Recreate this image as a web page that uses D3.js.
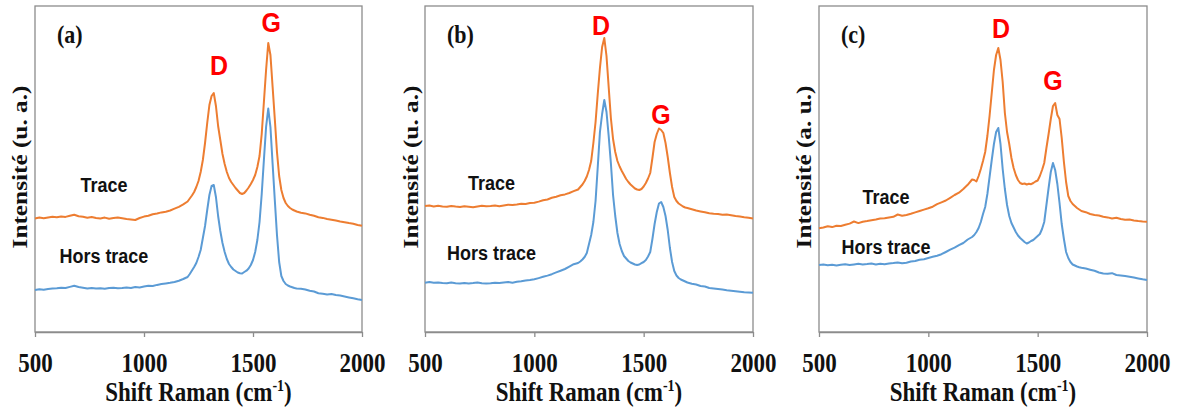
<!DOCTYPE html>
<html><head><meta charset="utf-8">
<script src="https://cdn.jsdelivr.net/npm/d3@7"></script>
<style>body{margin:0;background:#fff}svg{display:block}</style>
</head><body>
<svg id="chart" width="1180" height="410"></svg>
<script>
// ---- DATA ----
const wavenumbers = [
500,520,540,560,580,600,620,640,660,680,700,720,740,760,780,800,820,840,860,880,900,920,940,960,980,1000,1020,1040,1060,1080,1100,1120,1140,1160,1180,
1200,1210,1220,1230,1240,1250,1260,1270,1280,1290,1300,1310,1320,1330,1340,1350,1360,1370,1380,1390,1400,1410,1420,1430,1440,1450,1460,1470,1480,1490,1500,1510,1520,1530,1540,1550,1560,1570,1580,1590,1600,1610,1620,1630,1640,1650,1660,1670,1680,1690,1700,
1720,1740,1760,1780,1800,1820,1840,1860,1880,1900,1920,1940,1960,1980,2000];

const traceA = [
113.5,114.5,113.8,114.6,115.2,114.8,115.6,115.1,116.2,117.3,115.8,115.2,114.3,115.0,114.1,113.6,114.4,113.2,113.9,114.5,113.8,113.1,112.6,112.0,114.0,115.4,116.2,117.8,118.5,119.6,120.3,121.5,123.4,125.2,127.6,
130.5,133.5,136.5,140,145,151,160,172,189,209,227,236,239,226,206,192,178,168,160,154,150,147,144,141.5,139,138,139,141.5,144.5,148,152,157,165,176,198,230,262,289,277,245,213,180,156,142,134,129,126,124,122.5,121.5,120.5,
119.2,118.6,117.3,116.2,114.8,114.1,113.0,112.2,111.4,110.5,109.8,108.9,108.2,107.0,106.2];
const horsA = [
42.0,42.8,42.3,43.1,43.5,43.8,44.2,44.0,45.1,46.2,45.0,44.3,43.6,44.1,43.4,43.8,43.2,43.9,44.3,43.7,43.9,44.6,44.1,45.0,44.6,45.4,46.3,46.0,47.1,47.9,48.6,49.2,50.0,51.3,53.0,
55,58,61.5,65,69,75,82,94,106,122,137,146,147,135,116,101,89,80,73,68,65,62.5,61,59.5,58.8,58.5,60,61.3,63.5,67,72,80,92,110,138,172,205,223.5,205,168,132,97,70,56,51,48,46.5,45.5,44.8,44.0,43.6,
43.2,42.5,41.2,40.5,38.8,38.2,37.6,38.0,37.0,36.4,35.5,34.6,33.8,32.8,32.0];

const traceB = [
126.0,126.5,125.6,126.2,125.4,125.3,126.1,125.5,125.0,125.8,125.3,124.8,125.6,126.3,125.7,126.0,126.4,125.8,126.6,127.3,127.0,127.6,128.3,128.0,129.0,129.3,130.4,131.8,132.5,134.2,135.3,136.8,137.6,139.0,140.8,
142.5,145,147.5,151,155.5,162,171,189,210,238,264,285,294,276,245,214,193,180,171,165.5,161,157,153,150,147.5,145.5,143.5,142.5,142,143,145.5,149,153.5,159,174,190,198,203.5,202,199,189,175,159,145,135,131,128.5,127,125.5,124.5,124,
122.8,121.5,120.6,119.8,118.8,118.3,118.0,117.2,117.5,116.8,116.0,115.4,114.8,114.3,113.6];
const horsB = [
49.3,50.0,49.2,49.6,48.9,48.7,49.4,48.8,48.5,49.1,48.6,48.9,49.4,48.8,48.5,48.7,49.3,49.0,49.6,50.1,49.3,50.2,50.8,51.5,52.0,52.7,53.9,55.2,56.4,57.8,59.6,61.3,63.0,65.4,67.8,
69,70.5,72.5,75,79,88,97,110,131,165,200,218,232,220,196,169,137,116,99,88,81,76,73.5,71,69.5,68.5,67.5,67,67.5,68.8,70,72,75.5,80,93,108,120,128.5,130,125,116,102,84,70,61,56.5,54,52.5,51.5,50.5,49.5,
48.2,47.5,46.0,45.5,44.0,43.6,43.0,42.4,41.8,41.3,40.8,40.3,39.8,39.6,39.3];

const traceC = [
103.7,104.5,105.8,104.9,106.3,106.0,107.2,108.4,110.5,108.9,110.3,111.0,111.8,112.5,113.4,113.7,114.6,115.2,117.5,116.3,117.0,118.2,119.6,121.0,122.4,123.7,125.3,127.8,129.6,131.5,134.2,137.0,139.3,143.0,147.2,
152.5,152,150.5,156,163,171,180,196,216,239,262,277,284,272,250,219,200,188,174,164,157,152,149,148,148.5,147.5,148.2,147.8,149,150.5,151.5,156,162,169,184,198,213,226,229,217,213,194,170,150,136,131,128,126,124,122.5,121,
119.8,118.0,117.0,116.5,115.2,114.6,113.5,114.3,113.0,112.2,112.4,111.5,111.0,110.6,110.3];
const horsC = [
67.0,67.5,66.8,67.3,66.6,67.2,67.8,67.0,67.6,68.2,67.5,67.9,68.4,67.6,68.3,67.8,68.5,68.9,69.6,68.8,69.3,70.5,71.0,72.3,72.8,74.0,75.2,76.3,77.8,80.0,82.3,84.3,86.8,89.0,92.5,
95,97,100,104,110,118,125,138,155,172,188,200,204,188,163,143,127,116,109,104.5,100,96.5,94,92,90,88.5,89.5,91,92,94,96,98,103,110,127,144,160,169,162,148,129,108,93,80,74,70,67.5,66.5,65.5,64.8,64.2,
63.5,62.3,61.2,59.5,58.5,58.2,58.8,57.0,56.5,56.0,55.3,54.4,53.6,52.7,52.0];

const panelLabels = ["(a)", "(b)", "(c)"];
const yTitles = ["Intensité (u. a.)", "Intensité (u. a.)", "Intensité (a. u.)"];
const xTitle = "Shift Raman (cm";
const xTitleSup = "-1";
const xTicks = [500, 1000, 1500, 2000];
const seriesNames = ["Trace", "Hors trace"];
const peakNames = ["D", "G"];

// ---- LAYOUT (positions in data coordinates / pixels) ----
const layouts = [
  {left: 35,  right: 362,  yTitleX: 27,  trace: traceA, hors: horsA,
   peaks: [[1344, 257], [1583, 300]], names: [[816, 140], [816, 69]]},
  {left: 425, right: 753,  yTitleX: 418, trace: traceB, hors: horsB,
   peaks: [[1305, 297], [1579, 208]], names: [[804, 142], [804, 72]]},
  {left: 819, right: 1147, yTitleX: 811, trace: traceC, hors: horsC,
   peaks: [[1332, 294], [1570, 242]], names: [[806, 128], [806, 78]]}
];
const yTop = 6, yBottom = 332;
const SERIF = "'Liberation Serif','Times New Roman',serif";
const SANS = "'Liberation Sans',Arial,sans-serif";
const SY = 1.15;
const frameColor = "#8c8c8c";
const orange = "#ED7D31", blue = "#5B9BD5";

const svg = d3.select("#chart");

function sText(g, x, y, str, o) {
  return g.append("text")
    .attr("transform", `translate(${x},${y}) scale(1,${o.sy || SY})`)
    .attr("text-anchor", o.anchor || "middle")
    .attr("font-family", o.family).attr("font-weight", "bold")
    .attr("font-size", o.size).attr("fill", o.fill || "#111")
    .text(str);
}

layouts.forEach((p, k) => {
  const g = svg.append("g");
  const x = d3.scaleLinear().domain([500, 2000]).range([p.left, p.right]);
  const y = d3.scaleLinear().domain([0, 326]).range([yBottom, yTop]);

  // plot frame
  g.append("rect").attr("x", p.left).attr("y", yTop)
    .attr("width", p.right - p.left).attr("height", yBottom - yTop)
    .attr("fill", "none").attr("stroke", frameColor).attr("stroke-width", 1.3);

  // x axis
  const axis = d3.axisBottom(x).tickValues(xTicks).tickSize(5).tickSizeOuter(0).tickFormat(d3.format("d"));
  const ag = g.append("g").attr("transform", `translate(0,${yBottom})`).call(axis);
  ag.select(".domain").attr("stroke", frameColor).attr("stroke-width", 1.3);
  ag.selectAll(".tick line").attr("stroke", frameColor).attr("stroke-width", 1.3);
  ag.selectAll(".tick text").attr("y", null).attr("dy", null)
    .attr("transform", `translate(0,39.5) scale(1,${SY})`)
    .attr("font-family", SERIF).attr("font-weight", "bold").attr("font-size", 23).attr("fill", "#111");

  // lines
  const line = arr => d3.line().x((d, i) => x(wavenumbers[i])).y(d => y(d))(arr);
  g.append("path").attr("d", line(p.hors)).attr("fill", "none")
    .attr("stroke", blue).attr("stroke-width", 2).attr("stroke-linejoin", "round");
  g.append("path").attr("d", line(p.trace)).attr("fill", "none")
    .attr("stroke", orange).attr("stroke-width", 2).attr("stroke-linejoin", "round");

  // x title
  const cx = (p.left + p.right) / 2;
  const xt = g.append("text")
    .attr("transform", `translate(${cx},401) scale(1,${SY})`)
    .attr("text-anchor", "middle").attr("font-family", SERIF).attr("font-weight", "bold")
    .attr("font-size", 23).attr("fill", "#111");
  xt.append("tspan").text(xTitle);
  xt.append("tspan").attr("font-size", 14).attr("dy", -9).text(xTitleSup);
  xt.append("tspan").attr("dy", 9).text(")");

  // y title
  g.append("text")
    .attr("transform", `translate(${p.yTitleX},167) rotate(-90) scale(${SY},1)`)
    .attr("text-anchor", "middle").attr("font-family", SERIF).attr("font-weight", "bold")
    .attr("font-size", 22).attr("fill", "#111").text(yTitles[k]);

  // panel label
  sText(g, p.left + 22, 43, panelLabels[k], {family: SERIF, size: 22, anchor: "start"});

  // peak labels
  p.peaks.forEach((pk, j) => {
    sText(g, x(pk[0]), y(pk[1]), peakNames[j], {family: SANS, size: 25, fill: "#FF0000", sy: 1.12});
  });

  // series labels
  p.names.forEach((nm, j) => {
    sText(g, x(nm[0]), y(nm[1]), seriesNames[j], {family: SANS, size: 18});
  });
});
</script>
</body></html>
